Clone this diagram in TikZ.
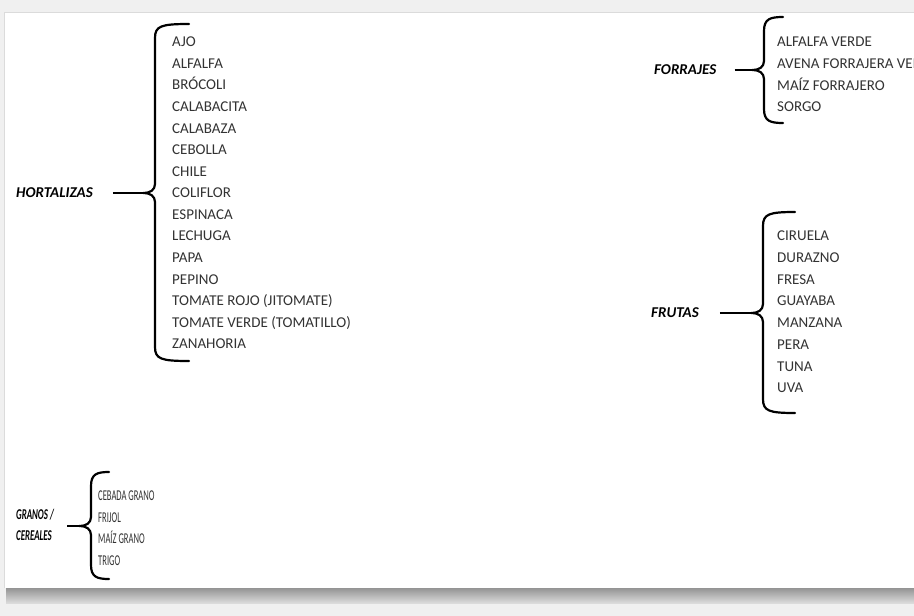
\documentclass[tikz,border=0pt]{standalone}
\usepackage{fontspec}
\setmainfont{Carlito}
\begin{document}
\begin{tikzpicture}[x=1pt,y=-1pt,
  item/.style={anchor=base west,inner sep=0pt,text=black!80,font=\fontsize{15}{18}\selectfont},
  cat/.style={anchor=base west,inner sep=0pt,text=black,font=\fontsize{15}{18}\selectfont\bfseries\itshape},
  bracestyle/.style={line width=2.2pt,line cap=round},
  link/.style={line width=2.2pt}]
\useasboundingbox (0,0) rectangle (914,616);
% background page and shadow
\fill[black!6] (0,0) rectangle (914,616);
\shade[top color=black!42,bottom color=black!14] (6,588) rectangle (914,603);
\fill[white] (4,12) rectangle (914,588);
\draw[black!14,line width=0.6pt] (4,588) -- (4,12) -- (914,12);
% brace macro: x, top, mid, bottom, hook end
\newcommand\grbrace[5]{%
  \draw[bracestyle] (#5,#2) .. controls (#1+6,#2) and (#1,#2+2) .. (#1,#2+14)
     -- (#1,#3-9) .. controls (#1,#3-3) and (#1-5,#3) .. (#1-11,#3)
     .. controls (#1-5,#3) and (#1,#3+3) .. (#1,#3+9)
     -- (#1,#4-14) .. controls (#1,#4-2) and (#1+6,#4) .. (#5,#4);}
% ---------- HORTALIZAS ----------
\node[cat] (hort) at (16,197) {HORTALIZAS};
\coordinate (hortc) at (144,193);
\grbrace{155}{24}{193}{361}{189}
\draw[link] (hort.east |- hortc) ++(20,0) -- (hortc);
\foreach \t [count=\i from 0] in {AJO,ALFALFA,BRÓCOLI,CALABACITA,CALABAZA,CEBOLLA,CHILE,COLIFLOR,ESPINACA,LECHUGA,PAPA,PEPINO,TOMATE ROJO (JITOMATE),TOMATE VERDE (TOMATILLO),ZANAHORIA}
  \node[item] (h\i) at (172,{46.8+21.57*\i}) {\t};
% ---------- FORRAJES ----------
\node[cat] (forr) at (654,74.8) {FORRAJES};
\coordinate (forrc) at (753,70);
\grbrace{764}{17}{70}{123}{783}
\draw[link] (forr.east |- forrc) ++(18,0) -- (forrc);
\foreach \t [count=\i from 0] in {ALFALFA VERDE,AVENA FORRAJERA VERDE,MAÍZ FORRAJERO,SORGO}
  \node[item] (f\i) at (777,{46.8+21.6*\i}) {\t};
% ---------- FRUTAS ----------
\node[cat] (frut) at (651,317.8) {FRUTAS};
\coordinate (frutc) at (752,313);
\grbrace{763}{212}{313}{413}{795}
\draw[link] (frut.east |- frutc) ++(21,0) -- (frutc);
\foreach \t [count=\i from 0] in {CIRUELA,DURAZNO,FRESA,GUAYABA,MANZANA,PERA,TUNA,UVA}
  \node[item] (u\i) at (777,{240.8+21.7*\i}) {\t};
% ---------- GRANOS / CEREALES ----------
\node[cat] (gran) at (16,519.8) {\scalebox{0.59}[1]{GRANOS /}};
\node[cat] (cere) at (16,540.8) {\scalebox{0.59}[1]{CEREALES}};
\coordinate (granc) at (80,526);
\grbrace{91}{472}{526}{579}{109}
\draw[link] (67,526) -- (granc);
\foreach \t [count=\i from 0] in {CEBADA GRANO,FRIJOL,MAÍZ GRANO,TRIGO}
  \node[item] (g\i) at (98,{500.8+21.4*\i}) {\scalebox{0.57}[1]{\t}};
\end{tikzpicture}
\end{document}
